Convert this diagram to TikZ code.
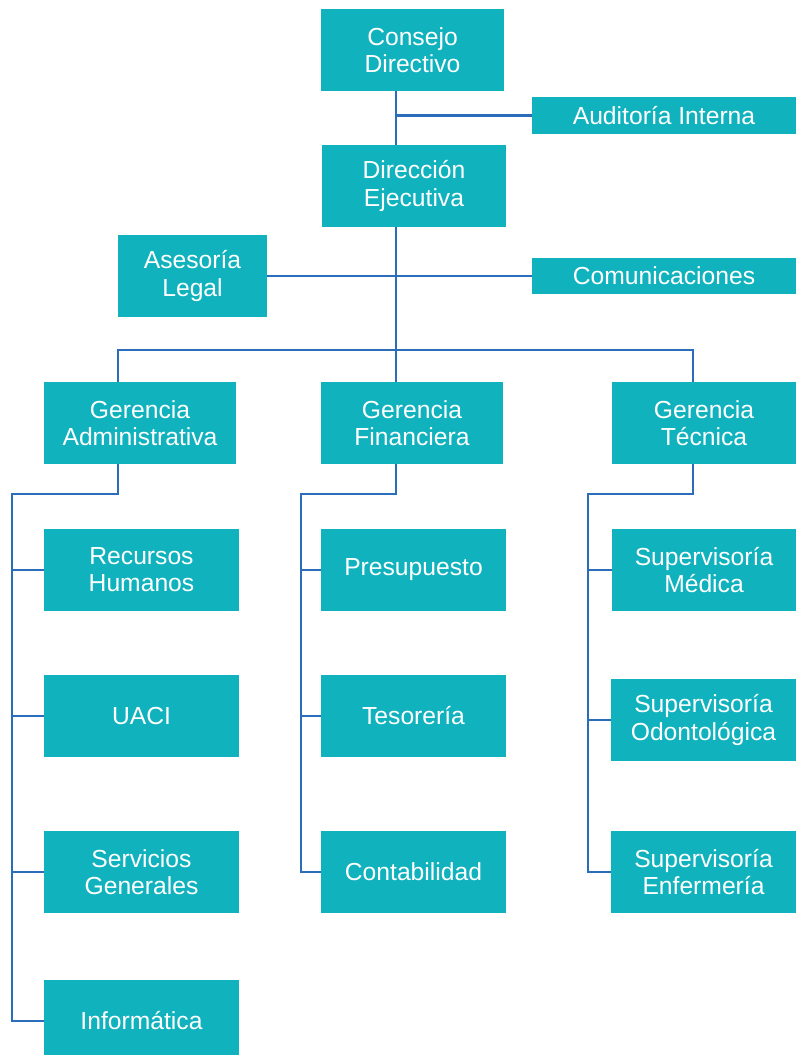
\documentclass[tikz,border=0pt]{standalone}
\usepackage{fontspec}
\setmainfont{Liberation Sans}
\usetikzlibrary{positioning}
\definecolor{boxteal}{HTML}{10B2BE}
\definecolor{lineblue}{HTML}{2A6EBB}
\tikzset{
	unit/.style={rectangle, fill=boxteal, text=white, align=center, inner sep=0pt,
		font=\fontsize{18.5}{20.3}\selectfont, minimum height=61.5pt},
	wide/.style={minimum width=#1*0.75pt},
	link/.style={draw=lineblue, line width=2pt}
}
\begin{document}
\begin{tikzpicture}[x=0.75pt, y=-0.75pt]
		\useasboundingbox (0,0) rectangle (796,1055);
		% top
		\node[unit, wide=183] (cd) at (412.5,50) {Consejo\\Directivo};
		\node[unit, wide=264, minimum height=27.75pt] (ai) at (664,115.5) {Auditoría Interna};
		\node[unit, wide=184] (de) at (414,186) {Dirección\\Ejecutiva};
		\node[unit, wide=149] (al) at (192.5,276) {Asesoría\\Legal};
		\node[unit, wide=264, minimum height=27pt] (com) at (664,276) {Comunicaciones};
		% gerencias
		\node[unit, wide=192] (ga) at (140,423) {Gerencia\\Administrativa};
		\node[unit, wide=182] (gf) at (412,423) {Gerencia\\Financiera};
		\node[unit, wide=184] (gt) at (704,423) {Gerencia\\Técnica};
		% administrativa
		\node[unit, wide=195] (rh) at (141.5,570) {Recursos\\Humanos};
		\node[unit, wide=195] (uaci) at (141.5,716) {UACI};
		\node[unit, wide=195] (sg) at (141.5,872) {Servicios\\Generales};
		\node[unit, wide=195] (inf) at (141.5,1021) {Informática};
		% financiera
		\node[unit, wide=185] (pre) at (413.5,570) {Presupuesto};
		\node[unit, wide=185] (tes) at (413.5,716) {Tesorería};
		\node[unit, wide=185] (con) at (413.5,872) {Contabilidad};
		% tecnica
		\node[unit, wide=184] (sm) at (704,570) {Supervisoría\\Médica};
		\node[unit, wide=185] (so) at (703.5,720) {Supervisoría\\Odontológica};
		\node[unit, wide=185] (se) at (703.5,872) {Supervisoría\\Enfermería};

		\coordinate (trunk) at (396,350);
		\coordinate (admx) at (118,350);
		\coordinate (tecx) at (693,350);
		\coordinate (admspine) at (12,494);
		\coordinate (finspine) at (301,494);
		\coordinate (tecspine) at (588,494);

		\draw[link] (cd.south -| trunk) -- (de.north -| trunk);
		\draw[link] (ai.west -| trunk) -- (ai.west);
		\draw[link] (de.south -| trunk) -- (gf.north -| trunk);
		\draw[link] (al.east) -- (com.west);
		\draw[link] (ga.north -| admx) -- (admx) -- (tecx) -- (gt.north -| tecx);

		\draw[link] (ga.south -| admx) -- (admx |- admspine) -- (admspine) -- (admspine |- inf.west) -- (inf.west);
		\draw[link] (gf.south -| trunk) -- (trunk |- finspine) -- (finspine) -- (finspine |- con.west) -- (con.west);
		\draw[link] (gt.south -| tecx) -- (tecx |- tecspine) -- (tecspine) -- (tecspine |- se.west) -- (se.west);
		\foreach \n in {rh,uaci,sg}
			\draw[link] (admspine |- \n.west) -- (\n.west);
		\foreach \n in {pre,tes}
			\draw[link] (finspine |- \n.west) -- (\n.west);
		\foreach \n in {sm,so}
			\draw[link] (tecspine |- \n.west) -- (\n.west);
\end{tikzpicture}
\end{document}
